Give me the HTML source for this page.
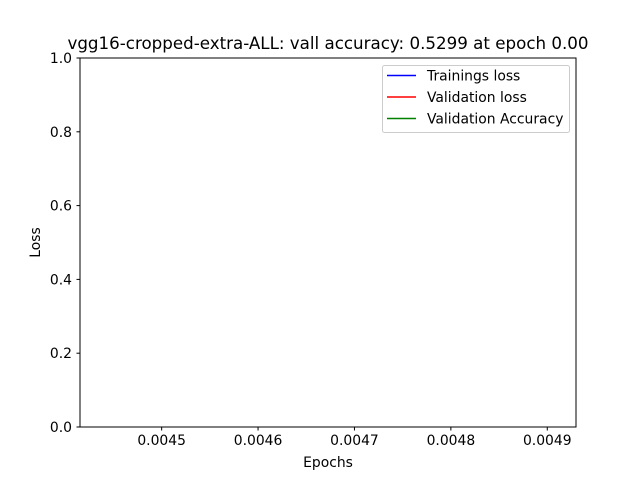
<!DOCTYPE html>
<html><head><meta charset="utf-8"><style>
body{margin:0;background:#fff}
svg{display:block;font-family:"DejaVu Sans","Liberation Sans",sans-serif}
</style></head><body>
<svg id="chart" width="640" height="480" viewBox="0 0 640 480">
<rect width="640" height="480" fill="#fff"/>
<text x="328" y="49" font-size="16.7" text-anchor="middle">vgg16-cropped-extra-ALL: vall accuracy: 0.5299 at epoch 0.00</text>
<g id="xt"></g>
<g id="yt"></g>
<g id="series"></g>
<rect x="80" y="58" width="496" height="369" fill="none" stroke="#000" stroke-width="1"/>
<text x="328" y="467" font-size="13.9" text-anchor="middle">Epochs</text>
<text transform="translate(40,242.5) rotate(-90)" font-size="13.9" text-anchor="middle">Loss</text>
<g>
<rect x="382.5" y="65.5" width="187" height="67" rx="2" fill="#fff" fill-opacity="0.8" stroke="#ccc"/>
<line x1="387" x2="416" y1="75.5" y2="75.5" stroke="#0000ff" stroke-width="1.5"/>
<text x="427" y="80.5" font-size="13.9">Trainings loss</text>
<line x1="387" x2="416" y1="97" y2="97" stroke="#ff0000" stroke-width="1.5"/>
<text x="427" y="102" font-size="13.9">Validation loss</text>
<line x1="387" x2="416" y1="118.5" y2="118.5" stroke="#008000" stroke-width="1.5"/>
<text x="427" y="123.5" font-size="13.9">Validation Accuracy</text>
</g>
</svg>
<script>
const xTicks=[0.0045,0.0046,0.0047,0.0048,0.0049];
const xTickLabels=["0.0045","0.0046","0.0047","0.0048","0.0049"];
const yTicks=[0,0.2,0.4,0.6,0.8,1.0];
const yTickLabels=["0.0","0.2","0.4","0.6","0.8","1.0"];
const epochs=[];
const trainLoss=[];
const valLoss=[];
const valAcc=[];
const X0=80,X1=576,Y0=427,Y1=58,xmin=0.0044153,xmax=0.0049298,ymin=0,ymax=1;
const NS="http://www.w3.org/2000/svg";
function sx(v){return X0+(v-xmin)/(xmax-xmin)*(X1-X0);}
function sy(v){return Y0-(v-ymin)/(ymax-ymin)*(Y0-Y1);}
const xt=document.getElementById('xt'),yt=document.getElementById('yt');
xTicks.forEach((v,i)=>{
 const x=sx(v);
 const l=document.createElementNS(NS,'line');
 l.setAttribute('x1',x);l.setAttribute('x2',x);l.setAttribute('y1',427);l.setAttribute('y2',430.5);l.setAttribute('stroke','#000');
 
 
 xt.appendChild(l);
 const t=document.createElementNS(NS,'text');
 t.setAttribute('x',x);t.setAttribute('y',445);t.setAttribute('font-size','13.9');t.setAttribute('text-anchor','middle');
 t.textContent=xTickLabels[i];
 
 
 xt.appendChild(t);
});
yTicks.forEach((v,i)=>{
 const y=sy(v);
 const l=document.createElementNS(NS,'line');
 l.setAttribute('x1',76.5);l.setAttribute('x2',80);l.setAttribute('y1',y);l.setAttribute('y2',y);l.setAttribute('stroke','#000');
 
 
 yt.appendChild(l);
 const t=document.createElementNS(NS,'text');
 t.setAttribute('x',72);t.setAttribute('y',y+5);t.setAttribute('font-size','13.9');t.setAttribute('text-anchor','end');
 t.textContent=yTickLabels[i];
 
 
 yt.appendChild(t);
});
const sg=document.getElementById('series');
[[trainLoss,'#0000ff','training-loss-line'],[valLoss,'#ff0000','validation-loss-line'],[valAcc,'#008000','validation-accuracy-line']].forEach(([d,c,n])=>{
 if(d.length<1)return;
 const p=document.createElementNS(NS,'polyline');
 p.setAttribute('points',d.map((v,i)=>sx(epochs[i])+','+sy(v)).join(' '));
 p.setAttribute('fill','none');p.setAttribute('stroke',c);p.setAttribute('stroke-width','1.5');
 
 
 sg.appendChild(p);
});
</script>
</body></html>
